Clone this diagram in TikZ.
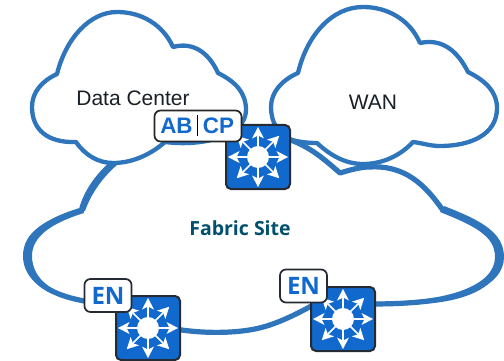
\documentclass[tikz,border=0pt]{standalone}
\usepackage{fontspec}
\setmainfont{Liberation Sans}
\newfontfamily\labelfont{Open Sans}
\definecolor{cloudblue}{HTML}{2F75BB}
\definecolor{switchblue}{HTML}{1169CE}
\definecolor{switchedge}{HTML}{252B33}
\definecolor{fabricteal}{HTML}{00506E}
\definecolor{captext}{HTML}{1A2027}
\tikzset{
  cloudline/.style={draw=cloudblue,line width=4.3pt,line join=round},
  fabricline/.style={draw=cloudblue,line width=5.2pt,line join=round},
  cloudthick/.style={fill=cloudblue,draw=none},
  switchbox/.style={draw=switchedge,fill=switchblue,line width=2pt,rounded corners=5pt,minimum size=64pt,inner sep=0pt},
  tagbox/.style={draw=switchedge,fill=white,line width=1.7pt,rounded corners=6pt,inner sep=0pt,text=switchblue,font=\labelfont\bfseries\fontsize{24}{24}\selectfont},
  tagtext/.style={inner sep=0pt,text=switchblue,anchor=base,font=\bfseries\fontsize{22.4}{24}\selectfont},
  caption/.style={text=captext,inner sep=0pt,font=\fontsize{21}{21}\selectfont},
  pics/switchicon/.style={code={
    \fill[white] (0,0) circle (11pt);
    \foreach \a in {0,45,...,315}{
      \begin{scope}[rotate=\a]
        \draw[white,line width=1.6pt] (0,0) -- (23,0);
        \fill[white] (30,0) -- (18.5,6) -- (21.5,0) -- (18.5,-6) -- cycle;
      \end{scope}
    }
  }}
}
\begin{document}
\begin{tikzpicture}[x=1pt,y=-1pt]
\useasboundingbox (0,0) rectangle (504,361);
\fill[white] (0,0) rectangle (504,361);
% Data Center cloud
\draw[cloudline] (57,74) .. controls (66,38) and (90,12) .. (117,12)
  .. controls (142,12) and (163,25) .. (173,47)
  .. controls (195,41) and (210,55) .. (218,73)
  .. controls (236,82) and (246,93) .. (246,110)
  .. controls (246,135) and (205,147) .. (165,142)
  .. controls (150,155) and (132,163) .. (113,163)
  .. controls (98,163) and (85,155) .. (76,142)
  .. controls (48,143) and (32,130) .. (32,107)
  .. controls (32,92) and (42,81) .. (57,74) -- cycle;
% WAN cloud
\draw[cloudline] (298,73) .. controls (307,35) and (332,7) .. (363,7)
  .. controls (388,7) and (410,20) .. (420,43)
  .. controls (443,38) and (458,52) .. (468,72)
  .. controls (486,81) and (497,92) .. (497,108)
  .. controls (497,135) and (470,146) .. (440,146)
  .. controls (430,146) and (422,143) .. (413,142)
  .. controls (400,156) and (382,164) .. (363,164)
  .. controls (345,164) and (330,155) .. (317,143)
  .. controls (308,143) and (300,142) .. (292,140)
  .. controls (278,135) and (271,122) .. (271,107)
  .. controls (271,92) and (282,80) .. (298,73) -- cycle;
% Fabric Site cloud
\draw[fabricline] (113,163) .. controls (100,175) and (88,192) .. (82,210)
  .. controls (48,220) and (27,234) .. (27,257)
  .. controls (27,282) and (52,296) .. (90,302);
\draw[fabricline] (175,329) .. controls (205,334) and (235,333) .. (255,329)
  .. controls (275,325) and (295,315) .. (315,304);
\draw[fabricline] (370,304) .. controls (395,304) and (415,303) .. (437,300)
  .. controls (475,295) and (499,280) .. (499,257)
  .. controls (499,234) and (475,222) .. (442,209)
  .. controls (425,185) and (405,165) .. (370,167)
  .. controls (360,167) and (350,170) .. (340,173)
  .. controls (325,160) and (310,146) .. (285,138);
\fill[cloudthick] (82,208) .. controls (45,219) and (23,232) .. (23,256)
  .. controls (23,281) and (48,296) .. (85,303) -- (85,300)
  .. controls (55,295) and (32,280) .. (32,256)
  .. controls (32,236) and (52,223) .. (84,213) -- cycle;
\fill[cloudthick] (444,206) .. controls (480,220) and (504,232) .. (504,257)
  .. controls (504,287) and (460,306) .. (377,306) -- (377,302)
  .. controls (450,302) and (495,285) .. (495,257)
  .. controls (495,236) and (475,226) .. (440,212) -- cycle;
\fill[cloudthick] (111,161) .. controls (97,173) and (84,190) .. (79,209) -- (85,211)
  .. controls (91,194) and (102,178) .. (117,165) -- cycle;
% Switches
\node[switchbox] (core) at (258,157) {};
\pic at (core.center) {switchicon};
\node[switchbox] (edgeA) at (148,328) {};
\pic at (edgeA.center) {switchicon};
\node[switchbox] (edgeB) at (343,319) {};
\pic at (edgeB.center) {switchicon};
% Tags
\node[tagbox,draw=black!85,minimum width=87pt,minimum height=31pt] (abcp) at (198,126) {};
\node[tagtext] (ab) at (176.5,133) {AB};
\node[tagtext] (cp) at (218.5,133) {CP};
\draw[black,line width=1.3pt] (197.3,115) -- (197.3,136);
\node[tagbox,minimum width=47pt,minimum height=33pt] (enA) at (108,295.5) {EN};
\node[tagbox,minimum width=47pt,minimum height=33pt] (enB) at (303.5,286) {EN};
% Labels
\node[caption] (dc) at (133,98) {Data Center};
\node[caption] (wan) at (373,102) {WAN};
\node[inner sep=0pt,text=fabricteal,font=\labelfont\bfseries\fontsize{19.5}{20}\selectfont] (fabric) at (240,228) {Fabric Site};
\end{tikzpicture}
\end{document}
